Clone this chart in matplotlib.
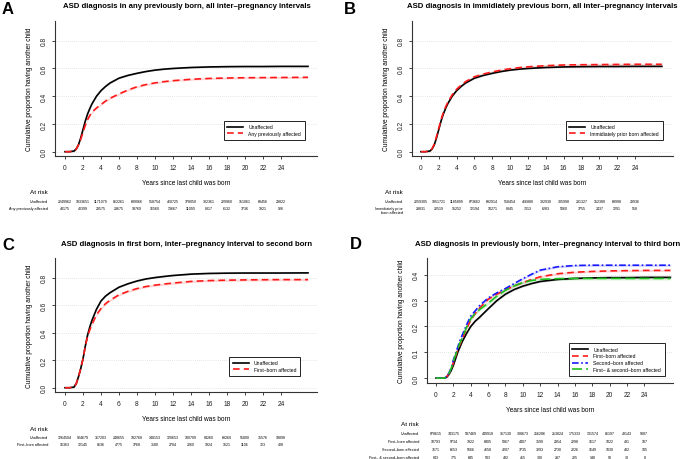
import matplotlib
matplotlib.use("Agg")
import matplotlib.pyplot as plt

plt.rcParams['font.family'] = ['Liberation Sans', 'DejaVu Sans']

W, H = 685, 460

# years since last child was born
t = [0, 0.5, 1, 1.25, 1.5, 1.75, 2, 2.25, 2.5, 2.75, 3, 3.5, 4, 4.5, 5, 6, 7, 8, 9,
     10, 11, 12, 14, 16, 18, 20, 22, 24, 27]

# panel A
a_unaff = [0, 0, 0.005, 0.02, 0.05, 0.10, 0.16, 0.22, 0.27, 0.31, 0.345, 0.40, 0.44, 0.47,
           0.495, 0.53, 0.55, 0.565, 0.578, 0.588, 0.595, 0.60, 0.607, 0.611, 0.613,
           0.614, 0.614, 0.615, 0.615]
a_aff = [0, 0, 0.005, 0.02, 0.05, 0.09, 0.14, 0.19, 0.23, 0.26, 0.285, 0.315, 0.34, 0.365,
         0.385, 0.416, 0.445, 0.468, 0.484, 0.496, 0.505, 0.512, 0.522, 0.528, 0.531,
         0.533, 0.534, 0.535, 0.536]
# panel B
b_unaff = a_unaff
b_aff = [0, 0, 0.005, 0.022, 0.055, 0.11, 0.17, 0.23, 0.28, 0.32, 0.355, 0.41, 0.45, 0.48,
         0.505, 0.54, 0.56, 0.575, 0.588, 0.598, 0.606, 0.612, 0.62, 0.625, 0.627, 0.628,
         0.629, 0.63, 0.63]
# panel C
c_unaff = [0, 0, 0.005, 0.03, 0.08, 0.14, 0.21, 0.30, 0.38, 0.44, 0.49, 0.57, 0.63, 0.665,
           0.69, 0.73, 0.755, 0.775, 0.79, 0.80, 0.808, 0.815, 0.825, 0.83, 0.832, 0.833,
           0.833, 0.833, 0.834]
c_aff = [0, 0, 0.005, 0.03, 0.08, 0.14, 0.21, 0.30, 0.37, 0.42, 0.46, 0.53, 0.575, 0.61,
         0.635, 0.675, 0.70, 0.72, 0.735, 0.745, 0.753, 0.76, 0.772, 0.778, 0.781, 0.783,
         0.784, 0.785, 0.785]
# panel D
d_unaff = [0, 0, 0, 0.005, 0.015, 0.03, 0.05, 0.075, 0.10, 0.12, 0.14, 0.172, 0.20, 0.22,
           0.235, 0.268, 0.30, 0.325, 0.343, 0.356, 0.366, 0.374, 0.382, 0.386, 0.388,
           0.389, 0.389, 0.39, 0.39]
d_first = [0, 0, 0, 0.006, 0.018, 0.035, 0.06, 0.085, 0.11, 0.13, 0.15, 0.19, 0.225, 0.25,
           0.27, 0.305, 0.325, 0.342, 0.357, 0.37, 0.382, 0.392, 0.404, 0.41, 0.413,
           0.415, 0.416, 0.417, 0.417]
d_second = [0, 0, 0, 0.007, 0.02, 0.04, 0.07, 0.095, 0.12, 0.145, 0.165, 0.205, 0.24, 0.26,
            0.28, 0.31, 0.33, 0.347, 0.366, 0.385, 0.402, 0.418, 0.431, 0.436, 0.437,
            0.437, 0.437, 0.437, 0.437]
d_both = [0, 0, 0, 0.006, 0.019, 0.038, 0.065, 0.09, 0.115, 0.135, 0.155, 0.195, 0.23, 0.25,
          0.265, 0.29, 0.317, 0.34, 0.357, 0.37, 0.378, 0.382, 0.385, 0.386, 0.386, 0.386,
          0.386, 0.386, 0.386]

# at-risk table
risk_years = list(range(0, 25, 2))
a_risk = [[2249962, 1933651, 1171079, 862261, 689066, 558754, 460725, 378050, 302361,
           229960, 151061, 69456, 29822],
          [48175, 40399, 29575, 23675, 19769, 16560, 13667, 11090, 8817, 6132, 3736, 1921, 926]]
b_risk = [[2259305, 1951721, 1185899, 873662, 692914, 558454, 466880, 382930, 305998,
           231327, 152380, 69998, 29936],
          [28831, 22519, 15252, 12194, 10271, 8845, 7313, 6283, 5060, 3755, 2437, 1291, 518]]
c_risk = [[1264504, 924679, 367203, 248655, 182768, 148153, 120653, 100709, 84260, 68260,
           51800, 35576, 19898],
          [16363, 12145, 8636, 4775, 3768, 3180, 2704, 2260, 1824, 1521, 1106, 723, 408]]
d_risk = [[878615, 743175, 587469, 449918, 367130, 308673, 256286, 213824, 175333, 131574,
           86197, 43143, 9087],
          [10793, 9734, 7922, 6405, 5367, 4407, 3599, 2954, 2298, 1617, 1022, 491, 107],
          [7671, 6653, 5666, 4658, 4207, 3735, 3293, 2730, 2226, 1649, 1030, 482, 105],
          [843, 775, 645, 533, 482, 415, 380, 287, 225, 148, 90, 38, 8]]

fig = plt.figure(figsize=(W / 100, H / 100), dpi=100)


def fy(y):
    return 1 - y / H


def make_axes(left, right, top, bottom, xlim, ylim, yticks, ylabels):
    ax = fig.add_axes([left / W, 1 - bottom / H, (right - left) / W, (bottom - top) / H])
    ax.set_xlim(*xlim)
    ax.set_ylim(*ylim)
    for s in ['top', 'right']:
        ax.spines[s].set_visible(False)
    for s in ['left', 'bottom']:
        ax.spines[s].set_linewidth(0.8)
        ax.spines[s].set_color('#333333')
    ax.set_xticks(risk_years)
    ax.set_yticks(yticks)
    ax.set_yticklabels(ylabels, rotation=90, va='center')
    ax.tick_params(labelsize=4.8, length=2.5, width=0.6, pad=3, colors='#222222')
    for v in yticks:
        ax.axhline(v, color='#cccccc', lw=0.5, ls=(0, (1, 2)), zorder=0)
    ax.set_xlabel('Years since last child was born', fontsize=4.7, labelpad=6)
    ax.set_ylabel('Cumulative proportion having another child', fontsize=4.7, labelpad=5)
    return ax


def curve(ax, y, color, ls, band, label):
    lo = [v - band if v > 0 else v for v in y]
    hi = [v + band if v > 0 else v for v in y]
    ax.fill_between(t, lo, hi, color=color, alpha=0.18, lw=0)
    ax.plot(t, y, color=color, ls=ls, lw=1.2, label=label)


def legend(ax, right, bottom):
    ax.legend(loc='lower right', bbox_to_anchor=(right / W, fy(bottom)),
              bbox_transform=fig.transFigure, fontsize=3.6, frameon=True, fancybox=False,
              edgecolor='#222222', framealpha=1, handlelength=3.2, borderpad=0.7,
              labelspacing=0.35, handletextpad=1.0).get_frame().set_linewidth(0.7)


def risk_table(ax, label_x, y_head, rows, labels):
    fig.text(label_x / W, fy(y_head), 'At risk', fontsize=4.6, ha='right', va='center')
    for (y, vals), lab in zip(rows, labels):
        fig.text(label_x / W, fy(y), lab, fontsize=2.7, ha='right', va='top',
                 linespacing=1.1)
        for yr, v in zip(risk_years, vals):
            xf = ax.transData.transform((yr, 0))[0] / fig.dpi / fig.get_figwidth()
            fig.text(xf, fy(y), str(v), fontsize=2.6, ha='center', va='top')


STEPS = (0, (4, 2.5))
TSIZE = 5.6

# ---- A
axA = make_axes(55, 317, 22, 157, (-1.11, 28.0), (-0.031, 0.942),
                [0, 0.2, 0.4, 0.6, 0.8], ['0.0', '0.2', '0.4', '0.6', '0.8'])
curve(axA, a_unaff, 'black', '-', 0.004, 'Unaffected')
curve(axA, a_aff, '#ff1a1a', STEPS, 0.007, 'Any previously affected')
legend(axA, 307, 143)
fig.text(2 / W, fy(9), 'A', fontsize=12, fontweight='bold', va='center')
fig.text(186.5 / W, fy(7), 'ASD diagnosis in any previously born, all inter\u2013pregnancy intervals',
         fontsize=TSIZE, fontweight='bold', ha='center', va='center')
risk_table(axA, 48, 193, [(200, a_risk[0]), (207, a_risk[1])],
           ['Unaffected', 'Any previously affected'])

# ---- B
axB = make_axes(412, 673, 22, 157, (-1.0, 28.25), (-0.031, 0.942),
                [0, 0.2, 0.4, 0.6, 0.8], ['0.0', '0.2', '0.4', '0.6', '0.8'])
curve(axB, b_unaff, 'black', '-', 0.004, 'Unaffected')
curve(axB, b_aff, '#ff1a1a', STEPS, 0.008, 'Immidiately prior born affected')
legend(axB, 665, 143)
fig.text(344 / W, fy(9), 'B', fontsize=12, fontweight='bold', va='center')
fig.text(542 / W, fy(7), 'ASD diagnosis in immidiately previous born, all inter\u2013pregnancy intervals',
         fontsize=TSIZE, fontweight='bold', ha='center', va='center')
risk_table(axB, 403, 193, [(200, b_risk[0]), (207, b_risk[1])],
           ['Unaffected', 'Immidiately prior\nborn affected'])

# ---- C
axC = make_axes(55, 317, 259, 393, (-1.11, 28.0), (-0.031, 0.942),
                [0, 0.2, 0.4, 0.6, 0.8], ['0.0', '0.2', '0.4', '0.6', '0.8'])
curve(axC, c_unaff, 'black', '-', 0.004, 'Unaffected')
curve(axC, c_aff, '#ff1a1a', STEPS, 0.008, 'First\u2013born affected')
legend(axC, 302, 379)
fig.text(2 / W, fy(246), 'C', fontsize=12, fontweight='bold', va='center')
fig.text(186.5 / W, fy(244), 'ASD diagnosis in first born, inter\u2013pregnancy interval to second born',
         fontsize=TSIZE, fontweight='bold', ha='center', va='center')
risk_table(axC, 48, 430, [(436, c_risk[0]), (443, c_risk[1])],
           ['Unaffected', 'First\u2013born affected'])

# ---- D
axD = make_axes(427, 673, 259, 384, (-1.04, 27.3), (-0.019, 0.465),
                [0, 0.1, 0.2, 0.3, 0.4], ['0.0', '0.1', '0.2', '0.3', '0.4'])
curve(axD, d_unaff, 'black', '-', 0.003, 'Unaffected')
curve(axD, d_first, '#ff1a1a', STEPS, 0.004, 'First\u2013born affected')
curve(axD, d_second, '#1a1aff', (0, (4, 1.5, 1, 1.5)), 0.004, 'Second\u2013born affected')
curve(axD, d_both, '#1fbf1f', (0, (6, 2.5)), 0.006, 'First\u2013 & second\u2013born affected')
legend(axD, 667, 379)
fig.text(350 / W, fy(245), 'D', fontsize=12, fontweight='bold', va='center')
fig.text(548 / W, fy(244), 'ASD diagnosis in previously born, inter\u2013pregnancy interval to third born',
         fontsize=TSIZE, fontweight='bold', ha='center', va='center')
risk_table(axD, 419, 425, [(432, d_risk[0]), (440, d_risk[1]), (448, d_risk[2]), (456, d_risk[3])],
           ['Unaffected', 'First\u2013born affected', 'Second\u2013born affected',
            'First\u2013 & second\u2013born affected'])

fig.savefig('out.png', dpi=100)
